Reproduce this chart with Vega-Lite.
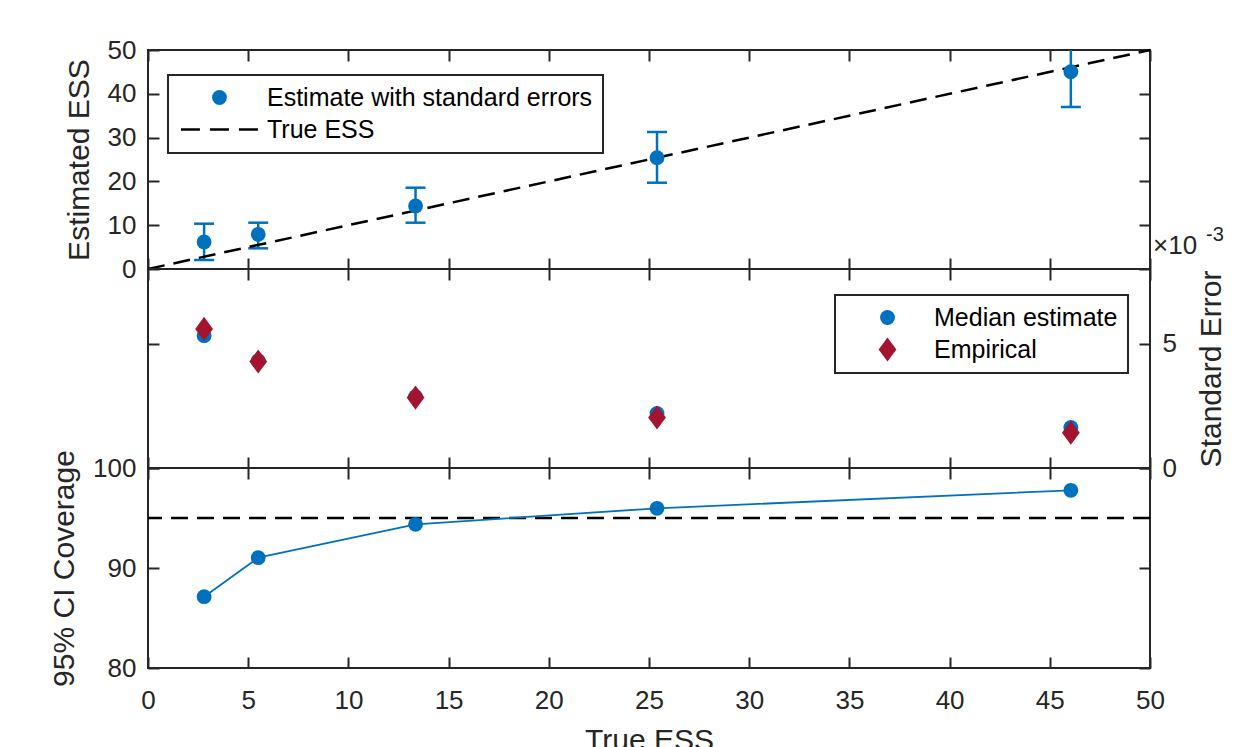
{
  "$schema": "https://vega.github.io/schema/vega-lite/v6.json",
  "background": "white",
  "padding": {"left": 48, "top": 36, "right": 5, "bottom": 5},
  "spacing": 0,
  "bounds": "flush",
  "config": {
    "font": "Liberation Sans",
    "view": {"stroke": "#262626", "strokeWidth": 2},
    "axis": {"grid": false, "domain": false, "ticks": true, "tickSize": -11, "tickWidth": 2, "tickColor": "#262626", "labelFont": "Liberation Sans", "labelFontSize": 26, "labelColor": "#262626", "labelPadding": 23, "labelFlush": false, "titleFont": "Liberation Sans", "titleFontSize": 30, "titleFontWeight": "normal", "titleColor": "#262626", "titlePadding": 13},
    "legend": {"labelFont": "Liberation Sans", "labelFontSize": 25, "labelColor": "#000000", "strokeColor": "#262626", "strokeWidth": 2, "fillColor": "white", "padding": 10, "rowPadding": 6, "cornerRadius": 0, "labelLimit": 600, "symbolSize": 220}
  },
  "resolve": {
    "scale": {"color": "independent", "shape": "independent", "fill": "independent", "stroke": "independent"},
    "legend": {"color": "independent", "shape": "independent", "fill": "independent", "stroke": "independent"}
  },
  "datasets": {
    "est": [
      {"ess": 2.8, "est": 6.16, "lo": 2.05, "hi": 10.34, "series": "Estimate with standard errors"},
      {"ess": 5.5, "est": 7.92, "lo": 4.72, "hi": 10.57, "series": "Estimate with standard errors"},
      {"ess": 13.35, "est": 14.38, "lo": 10.57, "hi": 18.56, "series": "Estimate with standard errors"},
      {"ess": 25.4, "est": 25.41, "lo": 19.7, "hi": 31.28, "series": "Estimate with standard errors"},
      {"ess": 46.05, "est": 45.05, "lo": 36.99, "hi": 53.1, "series": "Estimate with standard errors"}
    ],
    "truth": [
      {"ess": 0, "val": 0},
      {"ess": 50, "val": 50}
    ],
    "se": [
      {"ess": 2.8, "se": 0.00532, "series": "Median estimate"},
      {"ess": 5.5, "se": 0.00431, "series": "Median estimate"},
      {"ess": 13.35, "se": 0.00286, "series": "Median estimate"},
      {"ess": 25.4, "se": 0.00219, "series": "Median estimate"},
      {"ess": 46.05, "se": 0.00163, "series": "Median estimate"},
      {"ess": 2.8, "se": 0.00559, "series": "Empirical"},
      {"ess": 5.5, "se": 0.00428, "series": "Empirical"},
      {"ess": 13.35, "se": 0.00283, "series": "Empirical"},
      {"ess": 25.4, "se": 0.00203, "series": "Empirical"},
      {"ess": 46.05, "se": 0.00142, "series": "Empirical"}
    ],
    "cov": [
      {"ess": 2.8, "cov": 87.13},
      {"ess": 5.5, "cov": 91.03},
      {"ess": 13.35, "cov": 94.37},
      {"ess": 25.4, "cov": 95.97},
      {"ess": 46.05, "cov": 97.77}
    ],
    "one": [{}]
  },
  "vconcat": [
    {
      "width": 1002,
      "height": 219,
      "layer": [
        {
          "data": {"name": "est"},
          "mark": {"type": "rule", "color": "#0072BD", "strokeWidth": 2.5, "clip": true},
          "encoding": {
            "x": {"field": "ess", "type": "quantitative", "scale": {"domain": [0, 50], "nice": false},
                  "axis": {"orient": "bottom", "values": [0, 5, 10, 15, 20, 25, 30, 35, 40, 45, 50], "labels": false, "title": null}},
            "y": {"field": "lo", "type": "quantitative", "scale": {"domain": [0, 50], "nice": false},
                  "axis": {"orient": "left", "values": [0, 10, 20, 30, 40, 50], "title": "Estimated ESS"}},
            "y2": {"field": "hi"}
          }
        },
        {
          "data": {"name": "est"},
          "mark": {"type": "tick", "orient": "horizontal", "size": 20, "thickness": 2.5, "color": "#0072BD", "opacity": 1, "clip": true},
          "encoding": {
            "x": {"field": "ess", "type": "quantitative", "axis": null},
            "y": {"field": "lo", "type": "quantitative", "axis": null}
          }
        },
        {
          "data": {"name": "est"},
          "mark": {"type": "tick", "orient": "horizontal", "size": 20, "thickness": 2.5, "color": "#0072BD", "opacity": 1, "clip": true},
          "encoding": {
            "x": {"field": "ess", "type": "quantitative", "axis": null},
            "y": {"field": "hi", "type": "quantitative", "axis": null}
          }
        },
        {
          "data": {"name": "truth"},
          "mark": {"type": "line", "color": "#000000", "strokeWidth": 2.5, "strokeDash": [17, 9]},
          "encoding": {
            "x": {"field": "ess", "type": "quantitative",
                  "axis": {"orient": "top", "values": [0, 5, 10, 15, 20, 25, 30, 35, 40, 45, 50], "labels": false, "title": null}},
            "y": {"field": "val", "type": "quantitative",
                  "axis": {"orient": "right", "values": [0, 10, 20, 30, 40, 50], "labels": false, "title": null}}
          }
        },
        {
          "data": {"name": "est"},
          "mark": {"type": "point", "filled": true, "size": 220, "opacity": 1, "strokeWidth": 2.5},
          "encoding": {
            "x": {"field": "ess", "type": "quantitative", "axis": null},
            "y": {"field": "est", "type": "quantitative", "axis": null},
            "fill": {"field": "series", "type": "nominal",
                     "scale": {"domain": ["Estimate with standard errors", "True ESS"], "range": ["#0072BD", "rgba(0,0,0,0)"]},
                     "legend": {"title": null, "orient": "none", "legendX": 20, "legendY": 25, "symbolOffset": 29, "labelOffset": 35, "symbolDash": [19, 10], "symbolStrokeWidth": 2.5}},
            "stroke": {"field": "series", "type": "nominal",
                       "scale": {"domain": ["Estimate with standard errors", "True ESS"], "range": ["rgba(0,0,0,0)", "#000000"]},
                       "legend": {"title": null, "orient": "none", "legendX": 20, "legendY": 25, "symbolOffset": 29, "labelOffset": 35, "symbolDash": [19, 10], "symbolStrokeWidth": 2.5}},
            "shape": {"field": "series", "type": "nominal",
                      "scale": {"domain": ["Estimate with standard errors", "True ESS"], "range": ["circle", "M-5.2,0H5.2"]},
                      "legend": {"title": null, "orient": "none", "legendX": 20, "legendY": 25, "symbolOffset": 29, "labelOffset": 35, "symbolDash": [19, 10], "symbolStrokeWidth": 2.5}}
          }
        }
      ],
      "resolve": {"axis": {"x": "independent", "y": "independent"}}
    },
    {
      "width": 1002,
      "height": 199,
      "layer": [
        {
          "data": {"name": "se"},
          "mark": {"type": "point", "filled": true, "size": 220, "opacity": 1},
          "encoding": {
            "x": {"field": "ess", "type": "quantitative", "scale": {"domain": [0, 50], "nice": false},
                  "axis": {"orient": "bottom", "values": [0, 5, 10, 15, 20, 25, 30, 35, 40, 45, 50], "labels": false, "title": null}},
            "y": {"field": "se", "type": "quantitative", "scale": {"domain": [0, 0.008], "nice": false},
                  "axis": {"orient": "right", "values": [0, 0.005], "labelExpr": "round(datum.value * 1000)", "title": "Standard Error", "titleAngle": 270, "titleBaseline": "top", "titlePadding": 20}},
            "color": {"field": "series", "type": "nominal",
                      "scale": {"domain": ["Median estimate", "Empirical"], "range": ["#0072BD", "#A2142F"]},
                      "legend": {"title": null, "orient": "none", "legendX": 687, "legendY": 26, "symbolOffset": 30, "labelOffset": 34}},
            "shape": {"field": "series", "type": "nominal",
                      "scale": {"domain": ["Median estimate", "Empirical"], "range": ["circle", "M0,-1.63L1.2,0L0,1.63L-1.2,0Z"]},
                      "legend": {"title": null, "orient": "none", "legendX": 687, "legendY": 26, "symbolOffset": 30, "labelOffset": 34}}
          }
        },
        {
          "data": {"name": "se"},
          "mark": {"type": "point", "opacity": 0},
          "encoding": {
            "x": {"field": "ess", "type": "quantitative",
                  "axis": {"orient": "top", "values": [0, 5, 10, 15, 20, 25, 30, 35, 40, 45, 50], "labels": false, "title": null}},
            "y": {"field": "se", "type": "quantitative",
                  "axis": {"orient": "left", "values": [0, 0.005], "labels": false, "title": null}}
          }
        },
        {
          "data": {"name": "one"},
          "mark": {"type": "text", "align": "left", "baseline": "alphabetic", "fontSize": 26, "color": "#262626", "dx": 3, "dy": -15},
          "encoding": {
            "x": {"datum": 50, "type": "quantitative", "axis": null},
            "y": {"datum": 0.008, "type": "quantitative", "axis": null},
            "text": {"value": "×10"}
          }
        },
        {
          "data": {"name": "one"},
          "mark": {"type": "text", "align": "left", "baseline": "alphabetic", "fontSize": 20, "color": "#262626", "dx": 56, "dy": -28},
          "encoding": {
            "x": {"datum": 50, "type": "quantitative", "axis": null},
            "y": {"datum": 0.008, "type": "quantitative", "axis": null},
            "text": {"value": "-3"}
          }
        }
      ],
      "resolve": {"axis": {"x": "independent", "y": "independent"}}
    },
    {
      "width": 1002,
      "height": 200,
      "layer": [
        {
          "data": {"name": "one"},
          "mark": {"type": "rule", "color": "#000000", "strokeWidth": 2.5, "strokeDash": [17, 9]},
          "encoding": {
            "y": {"datum": 95, "type": "quantitative", "axis": null}
          }
        },
        {
          "data": {"name": "cov"},
          "mark": {"type": "line", "color": "#0072BD", "strokeWidth": 1.8},
          "encoding": {
            "x": {"field": "ess", "type": "quantitative", "scale": {"domain": [0, 50], "nice": false},
                  "axis": {"orient": "bottom", "values": [0, 5, 10, 15, 20, 25, 30, 35, 40, 45, 50], "title": "True ESS", "labelPadding": 30, "titlePadding": 12}},
            "y": {"field": "cov", "type": "quantitative", "scale": {"domain": [80, 100], "nice": false, "zero": false},
                  "axis": {"orient": "left", "values": [80, 90, 100], "title": "95% CI Coverage"}}
          }
        },
        {
          "data": {"name": "cov"},
          "mark": {"type": "point", "filled": true, "size": 220, "opacity": 1, "color": "#0072BD"},
          "encoding": {
            "x": {"field": "ess", "type": "quantitative",
                  "axis": {"orient": "top", "values": [0, 5, 10, 15, 20, 25, 30, 35, 40, 45, 50], "labels": false, "title": null}},
            "y": {"field": "cov", "type": "quantitative",
                  "axis": {"orient": "right", "values": [80, 90, 100], "labels": false, "title": null}}
          }
        }
      ],
      "resolve": {"axis": {"x": "independent", "y": "independent"}}
    }
  ]
}
